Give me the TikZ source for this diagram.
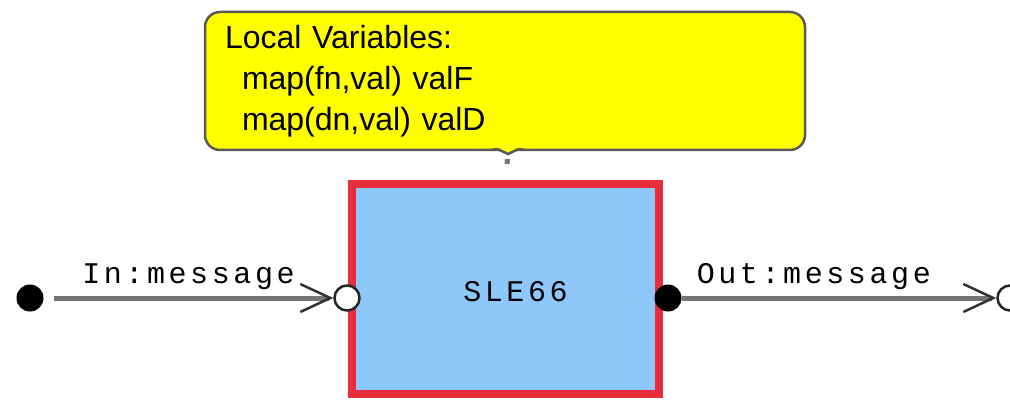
\documentclass[tikz,border=0pt]{standalone}
\usepackage{fontspec}
\setmainfont{Liberation Sans}
\newfontfamily\portfont[LetterSpace=12]{Liberation Mono}
\usetikzlibrary{arrows.meta, positioning}
\definecolor{noteyellow}{RGB}{255,255,0}
\definecolor{blockblue}{RGB}{142,200,250}
\definecolor{blockred}{RGB}{232,46,60}
\definecolor{wiregray}{RGB}{118,118,118}

\begin{document}
\begin{tikzpicture}[x=1pt, y=-1pt,
        note/.style={draw=black!65, fill=noteyellow, rounded corners=15pt, line width=2.5pt, align=left, text width=560pt, inner xsep=20pt, minimum height=138pt, font=\fontsize{32}{41}\selectfont},
        block/.style={draw=blockred, fill=blockblue, line width=8pt, minimum width=307pt, minimum height=210pt, font=\portfont\fontsize{30}{30}\selectfont},
        inport/.style={circle, draw=black!85, fill=white, line width=2.5pt, minimum size=25pt, inner sep=0pt},
        outport/.style={circle, fill=black, minimum size=27pt, inner sep=0pt},
        wire/.style={draw=wiregray, line width=5pt, -{Straight Barb[length=30pt, width=28pt, line width=2.5pt, color=black!80]}},
        portlabel/.style={font=\portfont\fontsize{30}{30}\selectfont, inner sep=0pt}
    ]
    \useasboundingbox (0,0) rectangle (1010,401);
    \node[note] (vars) at (505,81) {Local Variables:\\\hspace*{17pt}map(fn,val) valF\\\hspace*{17pt}map(dn,val) valD};
    \fill[noteyellow, draw=black!65, line width=2.5pt] (493,147) -- (508,154) -- (523,147);
    \fill[noteyellow] (491,144) rectangle (525,148);
    \coordinate (tip) at (508,154);
    \node[block] (sle) at (505.5,289) {\rule{0pt}{26pt}\hspace*{20pt}SLE66};
    \node[inport] (in) at (347,298) {};
    \node[outport] (out) at (668,298) {};
    \node[outport] (src) at (30,298) {};
    \node[inport] (sink) at (1010,298) {};
    % connectors
    \draw[wiregray, line width=5pt, dash pattern=on 5pt off 40pt, dash phase=40pt] (tip) -- (sle.north);
    \draw[wire, shorten <=10pt] (src) -- node[portlabel, midway, above=6pt] {In:message} (in);
    \draw[wire] (out) -- node[portlabel, pos=0.42, above=6pt] {Out:message} (sink);
\end{tikzpicture}
\end{document}
